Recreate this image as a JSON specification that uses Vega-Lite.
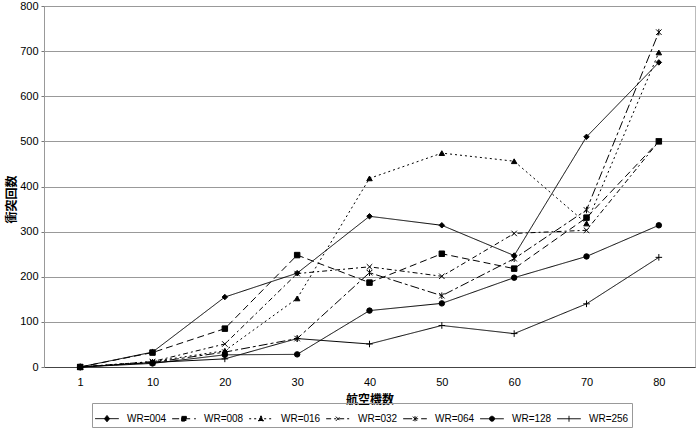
{
  "$schema": "https://vega.github.io/schema/vega-lite/v6.json",
  "width": 651,
  "height": 361,
  "autosize": "none",
  "padding": {"left": 44, "top": 6, "right": 5, "bottom": 66},
  "background": "white",
  "config": {
    "font": "Liberation Sans",
    "view": {"stroke": "#777", "strokeDash": [1, 1], "strokeWidth": 1},
    "axis": {"labelFont": "Liberation Sans", "labelFontSize": 11, "labelColor": "#000", "titleColor": "#000"}
  },
  "resolve": {"scale": {"shape": "independent", "strokeDash": "independent"}, "legend": {"shape": "independent", "strokeDash": "independent"}},
  "data": {
    "values": [
      {"n": "1", "series": "WR=004", "v": 0},
      {"n": "10", "series": "WR=004", "v": 33},
      {"n": "20", "series": "WR=004", "v": 155},
      {"n": "30", "series": "WR=004", "v": 208},
      {"n": "40", "series": "WR=004", "v": 334},
      {"n": "50", "series": "WR=004", "v": 314},
      {"n": "60", "series": "WR=004", "v": 247},
      {"n": "70", "series": "WR=004", "v": 510},
      {"n": "80", "series": "WR=004", "v": 675},
      {"n": "1", "series": "WR=008", "v": 0},
      {"n": "10", "series": "WR=008", "v": 32},
      {"n": "20", "series": "WR=008", "v": 85},
      {"n": "30", "series": "WR=008", "v": 248},
      {"n": "40", "series": "WR=008", "v": 187},
      {"n": "50", "series": "WR=008", "v": 251},
      {"n": "60", "series": "WR=008", "v": 218},
      {"n": "70", "series": "WR=008", "v": 331},
      {"n": "80", "series": "WR=008", "v": 500},
      {"n": "1", "series": "WR=016", "v": 0},
      {"n": "10", "series": "WR=016", "v": 12},
      {"n": "20", "series": "WR=016", "v": 36},
      {"n": "30", "series": "WR=016", "v": 152},
      {"n": "40", "series": "WR=016", "v": 418},
      {"n": "50", "series": "WR=016", "v": 474},
      {"n": "60", "series": "WR=016", "v": 456},
      {"n": "70", "series": "WR=016", "v": 318},
      {"n": "80", "series": "WR=016", "v": 697},
      {"n": "1", "series": "WR=032", "v": 0},
      {"n": "10", "series": "WR=032", "v": 12},
      {"n": "20", "series": "WR=032", "v": 51},
      {"n": "30", "series": "WR=032", "v": 207},
      {"n": "40", "series": "WR=032", "v": 222},
      {"n": "50", "series": "WR=032", "v": 201},
      {"n": "60", "series": "WR=032", "v": 296},
      {"n": "70", "series": "WR=032", "v": 303},
      {"n": "80", "series": "WR=032", "v": 500},
      {"n": "1", "series": "WR=064", "v": 0},
      {"n": "10", "series": "WR=064", "v": 10},
      {"n": "20", "series": "WR=064", "v": 33},
      {"n": "30", "series": "WR=064", "v": 63},
      {"n": "40", "series": "WR=064", "v": 209},
      {"n": "50", "series": "WR=064", "v": 158},
      {"n": "60", "series": "WR=064", "v": 240},
      {"n": "70", "series": "WR=064", "v": 348},
      {"n": "80", "series": "WR=064", "v": 742},
      {"n": "1", "series": "WR=128", "v": 0},
      {"n": "10", "series": "WR=128", "v": 8},
      {"n": "20", "series": "WR=128", "v": 27},
      {"n": "30", "series": "WR=128", "v": 28},
      {"n": "40", "series": "WR=128", "v": 125},
      {"n": "50", "series": "WR=128", "v": 141},
      {"n": "60", "series": "WR=128", "v": 198},
      {"n": "70", "series": "WR=128", "v": 245},
      {"n": "80", "series": "WR=128", "v": 314},
      {"n": "1", "series": "WR=256", "v": 0},
      {"n": "10", "series": "WR=256", "v": 10},
      {"n": "20", "series": "WR=256", "v": 18},
      {"n": "30", "series": "WR=256", "v": 63},
      {"n": "40", "series": "WR=256", "v": 51},
      {"n": "50", "series": "WR=256", "v": 92},
      {"n": "60", "series": "WR=256", "v": 74},
      {"n": "70", "series": "WR=256", "v": 140},
      {"n": "80", "series": "WR=256", "v": 243}
    ]
  },
  "encoding": {
    "x": {
      "field": "n", "type": "ordinal",
      "sort": ["1", "10", "20", "30", "40", "50", "60", "70", "80"],
      "title": "航空機数",
      "axis": {
        "labelAngle": 0, "ticks": false, "labelPadding": 9, "domainColor": "#444", "labelColor": "#000",
        "titleFont": "Noto Sans CJK JP", "titleFontSize": 12, "titleFontWeight": "bold", "titlePadding": 7
      }
    },
    "y": {
      "field": "v", "type": "quantitative",
      "scale": {"domain": [0, 800]},
      "title": "衝突回数",
      "axis": {
        "values": [0, 100, 200, 300, 400, 500, 600, 700, 800],
        "gridColor": "#999", "gridOpacity": 1, "gridWidth": 1,
        "domainColor": "#999", "tickColor": "#777", "tickSize": 3, "labelPadding": 3,
        "titleFont": "Noto Sans CJK JP", "titleFontSize": 12, "titleFontWeight": "bold",
        "titleX": -33, "titleY": 193, "titleAlign": "center", "titleBaseline": "middle"
      }
    }
  },
  "layer": [
    {
      "mark": {"type": "line", "color": "black", "strokeWidth": 1},
      "encoding": {
        "strokeDash": {
          "field": "series", "type": "nominal",
          "scale": {
            "domain": ["WR=004", "WR=008", "WR=016", "WR=032", "WR=064", "WR=128", "WR=256"],
            "range": [[1, 0], [7, 4], [2, 3], [5, 3, 2, 3], [9, 3, 3, 3], [1, 0], [1, 0]]
          },
          "legend": {
            "title": null,
            "orient": "none",
            "direction": "horizontal",
            "legendX": 48,
            "legendY": 397,
            "symbolSize": 100,
            "symbolStrokeWidth": 1,
            "symbolStrokeColor": "black",
            "symbolFillColor": "black",
            "labelFont": "Liberation Sans",
            "labelFontSize": 10,
            "labelColor": "black",
            "labelOffset": 7,
            "columnPadding": 3,
            "strokeColor": "#999",
            "padding": 3,
            "encode": {
              "symbols": {
                "update": {
                  "size": {"value": 560},
                  "x": {"value": 12},
                  "shape": {"signal": "datum.value === 'WR=004' ? 'M-1,0L1,0M0,-0.27L0.22,0L0,0.27L-0.22,0Z' : datum.value === 'WR=008' ? 'M-1,0L1,0M-0.2,-0.2L0.2,-0.2L0.2,0.2L-0.2,0.2Z' : datum.value === 'WR=016' ? 'M-1,0L1,0M0,-0.25L0.22,0.18L-0.22,0.18Z' : datum.value === 'WR=032' ? 'M-1,0L1,0M-0.18,-0.18L0.18,0.18M-0.18,0.18L0.18,-0.18' : datum.value === 'WR=064' ? 'M-1,0L1,0M-0.18,-0.18L0.18,0.18M-0.18,0.18L0.18,-0.18M0,-0.22L0,0.22' : datum.value === 'WR=128' ? 'M-1,0L1,0M-0.21,0A0.21,0.21,0,1,0,0.21,0A0.21,0.21,0,1,0,-0.21,0Z' : 'M-1,0L1,0M0,-0.25L0,0.25'"},
                  "fill": {"value": "black"},
                  "stroke": {"value": "black"}
                }
              }
            }
          }
        }
      }
    },
    {
      "mark": {"type": "point", "filled": true, "fill": "black", "stroke": "black", "strokeWidth": 1, "size": 30, "opacity": 1},
      "encoding": {
        "shape": {
          "field": "series", "type": "nominal",
          "scale": {
            "domain": ["WR=004", "WR=008", "WR=016", "WR=032", "WR=064", "WR=128", "WR=256"],
            "range": ["diamond", "square", "triangle-up", "M-1,-1L1,1M-1,1L1,-1", "M-1,-1L1,1M-1,1L1,-1M0,-1.2L0,1.2", "circle", "M-1.2,0L1.2,0M0,-1.2L0,1.2"]
          },
          "legend": null
        }
      }
    }
  ]
}
